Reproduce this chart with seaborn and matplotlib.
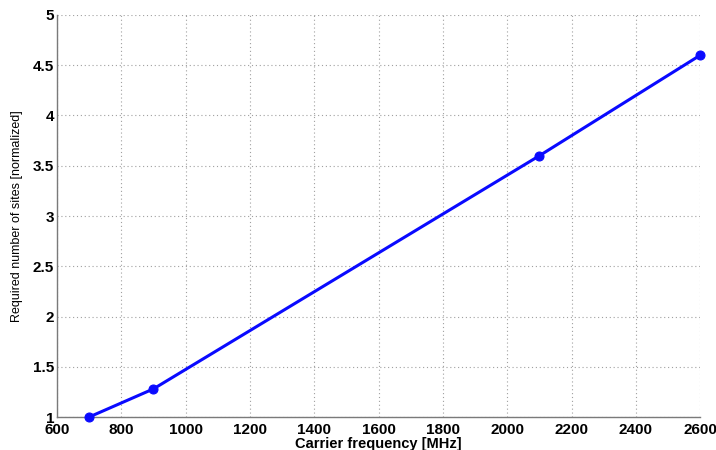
import matplotlib
matplotlib.use("Agg")
import matplotlib.pyplot as plt
import seaborn as sns
import pandas as pd

# Carrier frequency vs. normalized number of required sites
freq_mhz = [700, 900, 2100, 2600]
sites_norm = [1.0, 1.28, 3.6, 4.6]

x_ticks = [600, 800, 1000, 1200, 1400, 1600, 1800, 2000, 2200, 2400, 2600]
y_ticks = [1, 1.5, 2, 2.5, 3, 3.5, 4, 4.5, 5]
y_ticklabels = ["1", "1.5", "2", "2.5", "3", "3.5", "4", "4.5", "5"]

df = pd.DataFrame({"freq": freq_mhz, "sites": sites_norm})

sns.set_style("white")
plt.rcParams["font.family"] = ["Liberation Sans", "DejaVu Sans"]
plt.rcParams["text.color"] = "black"
plt.rcParams["axes.labelcolor"] = "black"
plt.rcParams["xtick.labelcolor"] = "black"
plt.rcParams["ytick.labelcolor"] = "black"

fig = plt.figure(figsize=(7.16, 4.5), dpi=100)
ax = fig.add_axes([0.0796, 0.0733, 0.8984, 0.8934])

sns.lineplot(data=df, x="freq", y="sites", ax=ax, color="#0a0aff",
             linewidth=2.2, marker="o", markersize=6.5,
             markeredgecolor="#0a0aff", clip_on=False, zorder=5)

ax.set_xlim(600, 2600)
ax.set_ylim(1, 5)
ax.set_xticks(x_ticks)
ax.set_yticks(y_ticks)
ax.set_yticklabels(y_ticklabels)

ax.grid(True, linestyle=(0, (1, 2.5)), color="#a0a0a0", linewidth=0.8)
ax.set_axisbelow(True)

for side in ("top", "right"):
    ax.spines[side].set_visible(False)
for side in ("left", "bottom"):
    ax.spines[side].set_color("#7a7a7a")
    ax.spines[side].set_linewidth(1.0)

ax.tick_params(axis="both", direction="in", length=4, width=0.8,
               color="#7a7a7a", labelsize=11, pad=2)
ax.tick_params(axis="x", pad=4)
for lbl in ax.get_xticklabels() + ax.get_yticklabels():
    lbl.set_fontweight("bold")

ax.set_xlabel("Carrier frequency [MHz]", fontsize=10.5, fontweight="bold", labelpad=0)
ax.set_ylabel("Required number of sites [normalized]", fontsize=9, labelpad=7)

fig.savefig("out.png", dpi=100, facecolor="white")
